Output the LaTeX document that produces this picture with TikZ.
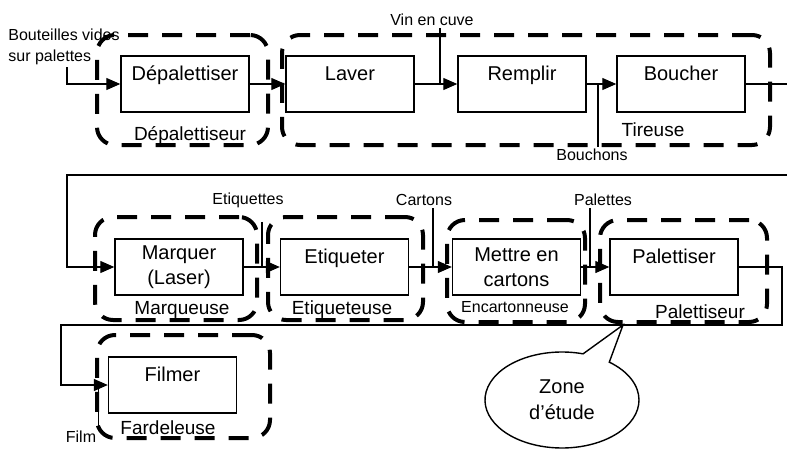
\documentclass[tikz,border=0pt]{standalone}
\usepackage{fontspec}
\setmainfont{Liberation Sans}
\usetikzlibrary{arrows.meta,positioning,shapes.callouts}

\begin{document}
\begin{tikzpicture}[x=0.5pt,y=-0.5pt,
  box/.style={rectangle,draw,line width=0.7pt,minimum width=64pt,minimum height=28pt,
              font=\fontsize{10}{12.5}\selectfont,align=center,inner sep=3pt},
  tbox/.style={box,text height=9pt,text depth=13pt},
  grp/.style={rectangle,draw,line width=2pt,rounded corners=9pt,
              dash pattern=on 10pt off 7pt,inner sep=0pt},
  glab/.style={font=\fontsize{9.5}{11}\selectfont,inner sep=1pt},
  lab/.style={font=\fontsize{8}{10.5}\selectfont,align=left,inner sep=1pt},
  zone/.style={ellipse callout,draw,line width=0.7pt,minimum width=77pt,minimum height=48pt,
               callout pointer arc=22,font=\fontsize{10}{13}\selectfont,align=center},
  arr/.style={-{Triangle[length=7pt,width=6pt]},line width=0.6pt},
  ln/.style={line width=0.6pt}
]
\useasboundingbox (0,0) rectangle (787,450);
\coordinate (edge) at (792,0);
\coordinate (back) at (782,0);

% ligne 1
\node[tbox] (depal) at (185,84) {Dépalettiser};
\node[tbox] (laver) at (350,84) {Laver};
\node[tbox] (remplir) at (522,84) {Remplir};
\node[tbox] (boucher) at (681,84) {Boucher};
\node[lab] (bouteilles) at (64,47) {Bouteilles vides\\sur palettes};
\node[lab] (vin) at (432,20) {Vin en cuve};
\node[lab] (bouchons) at (592,155) {Bouchons};

\node[grp,minimum width=85.5pt,minimum height=55pt] (gdepal) at (182.5,90) {};
\node[grp,minimum width=244pt,minimum height=55pt] (gtir) at (526,90) {};
\node[glab] at (190,135) {Dépalettiseur};
\node[glab] at (653,130) {Tireuse};

\draw[arr] ([xshift=1.5pt]bouteilles.south) |- (depal.west);
\draw[arr] (depal)--(laver);
\draw[arr] (laver)--(remplir);
\draw[arr] (remplir)--(boucher);
\draw[ln] ([xshift=4pt]vin.south)--([xshift=4pt]vin.south |- laver.east);
\draw[ln] ([xshift=3pt]bouchons.north)--([xshift=3pt]bouchons.north |- boucher.west);

% ligne 2
\node[box] (marquer) at (179,267) {Marquer\\(Laser)};
\node[tbox] (etiqueter) at (344.5,267) {Etiqueter};
\node[box] (mettre) at (516.5,267) {Mettre en\\cartons};
\node[tbox] (palettiser) at (674,267) {Palettiser};
\node[lab] (etiquettes) at (248,200) {Etiquettes};
\node[lab] (cartons) at (424,200) {Cartons};
\node[lab] (palettes) at (603,200) {Palettes};

\node[grp,minimum width=81pt,minimum height=51.5pt] (gmarq) at (176,268.5) {};
\node[grp,minimum width=77.5pt,minimum height=51.5pt] (getiq) at (345.5,268.5) {};
\node[grp,minimum width=69pt,minimum height=51pt] (gencart) at (516,271) {};
\node[grp,minimum width=83.5pt,minimum height=51pt] (gpal) at (683.5,271) {};
\node[glab] at (182,310) {Marqueuse};
\node[glab] at (342,310) {Etiqueteuse};
\node[lab] at (515,307) {Encartonneuse};
\node[glab] at (700,312) {Palettiseur};

\draw[arr] (boucher.east)--(boucher.east -| edge)--++(0,91)-|++(-725,0)|-(marquer.west);
\draw[arr] (marquer)--(etiqueter);
\draw[arr] (etiqueter)--(mettre);
\draw[arr] (mettre)--(palettiser);
\draw[ln] ([xshift=7pt]etiquettes.south)++(0,-6pt)--([xshift=7pt]etiquettes.south |- marquer.east);
\draw[ln] ([xshift=4.5pt]cartons.south)--([xshift=4.5pt]cartons.south |- etiqueter.east);
\draw[ln] ([xshift=-6.5pt]palettes.south)--([xshift=-6.5pt]palettes.south |- mettre.east);

% ligne 3
\node[tbox] (filmer) at (172.5,385) {Filmer};
\node[lab] (film) at (81,437) {Film};
\node[grp,minimum width=86.5pt,minimum height=51.5pt] (gfarde) at (183.5,386.5) {};
\node[glab] at (168,428) {Fardeleuse};

\draw[arr] (palettiser.east)--(palettiser.east -| back)--++(0,58)-|++(-721,0)|-(filmer.west);
\draw[ln] (film.north east)--(film.north east |- filmer.west);

\node[zone,callout absolute pointer={(623,325)}] (zone) at (562,400) {Zone\\d'étude};
\end{tikzpicture}
\end{document}
